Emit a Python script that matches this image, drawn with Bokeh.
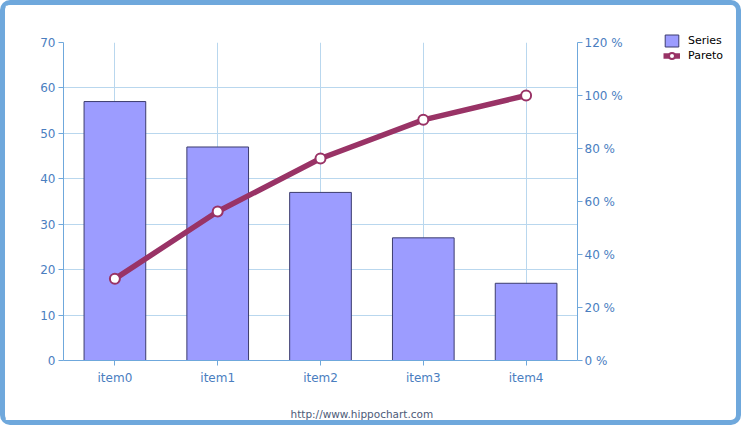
from bokeh.plotting import figure
from bokeh.layouts import row
from bokeh.models import (ColumnDataSource, Range1d, LinearAxis, FactorRange, Legend, LegendItem,
                          PrintfTickFormatter, SingleIntervalTicker, Title)
from bokeh.embed import file_html
from bokeh.resources import INLINE

categories = ["item0", "item1", "item2", "item3", "item4"]
values = [57, 47, 37, 27, 17]
total = sum(values)
cum = []
s = 0
for v in values:
    s += v
    cum.append(s / total * 100.0)
series_names = ["Series", "Pareto"]

src = ColumnDataSource(dict(cat=categories, val=values, pct=cum))

AX = "#6fa8dc"
LBL = "#4a7ebf"
GRID = "#b9d7ee"
FONT = "DejaVu Sans"
BAR_FILL = "#9c9cff"
BAR_LINE = "#3c3c6e"
PARETO = "#993366"

WA, WB, H = 622, 109, 415

p = figure(x_range=FactorRange(*categories, range_padding=0), y_range=Range1d(0, 70),
           width=WA, height=H, output_backend="svg", toolbar_location=None,
           min_border_left=58, min_border_right=50, min_border_top=37, min_border_bottom=60)
p.outline_line_color = None
p.background_fill_color = "white"
p.border_fill_color = "white"
p.extra_y_ranges = {"pct": Range1d(0, 120)}

p.vbar(x="cat", top="val", width=0.6, source=src, fill_color=BAR_FILL,
       line_color=BAR_LINE, line_width=1)
p.line(x="cat", y="pct", source=src, y_range_name="pct", line_color=PARETO, line_width=5.5)
p.scatter(x="cat", y="pct", source=src, y_range_name="pct", size=10, fill_color="white",
          line_color=PARETO, line_width=2)

for ax in [p.xaxis[0], p.yaxis[0]]:
    ax.axis_line_color = AX
    ax.major_tick_line_color = AX
    ax.minor_tick_line_color = None
    ax.major_tick_out = 5
    ax.major_tick_in = 0
    ax.major_label_text_color = LBL
    ax.major_label_text_font = FONT
    ax.major_label_text_font_size = "12px"
p.yaxis[0].ticker = SingleIntervalTicker(interval=10, num_minor_ticks=0)
p.xaxis[0].major_label_standoff = 5
p.yaxis[0].major_label_standoff = 3
# blank spacer label to push the footer down
p.xaxis[0].axis_label = " "
p.xaxis[0].axis_label_standoff = 3
p.xaxis[0].axis_label_text_font_size = "11px"

ry = LinearAxis(y_range_name="pct", ticker=SingleIntervalTicker(interval=20, num_minor_ticks=0),
                formatter=PrintfTickFormatter(format="%d %%"))
ry.axis_line_color = AX
ry.major_tick_line_color = AX
ry.minor_tick_line_color = None
ry.major_tick_out = 5
ry.major_tick_in = 0
ry.major_label_text_color = LBL
ry.major_label_text_font = FONT
ry.major_label_text_font_size = "12px"
ry.major_label_standoff = 2
p.add_layout(ry, "right")

p.xgrid.grid_line_color = GRID
p.ygrid.grid_line_color = GRID

footer = Title(text="http://www.hippochart.com", align="left", text_font=FONT,
               text_font_size="10.5px", text_color="#4d5a78", text_font_style="normal",
               offset=227, standoff=0)
p.add_layout(footer, "below")

# legend panel (separate small transparent figure to the right)
q = figure(x_range=Range1d(0, 1), y_range=Range1d(0, 1), width=WB, height=H,
           output_backend="svg", toolbar_location=None, title=None,
           x_axis_location=None, y_axis_location=None,
           min_border_left=36, min_border_right=0, min_border_top=0, min_border_bottom=0,
           styles={"margin-top": "-9px"})
q.grid.visible = False
q.outline_line_color = None
q.background_fill_alpha = 0
q.border_fill_alpha = 0
# legend proxies: one undrawn (NaN) point each, only used for legend swatches
nan = float("nan")
proxy = ColumnDataSource(dict(x=[nan], y=[nan]))
lb = q.vbar(x="x", top="y", width=0.5, source=proxy, fill_color=BAR_FILL, line_color=BAR_LINE)
ll = q.line(x="x", y="y", source=proxy, line_color=PARETO, line_width=5.5)
lp = q.scatter(x="x", y="y", source=proxy, size=10, fill_color="white", line_color=PARETO, line_width=2)

legend = Legend(items=[LegendItem(label=series_names[0], renderers=[lb]),
                       LegendItem(label=series_names[1], renderers=[ll, lp])],
                location="top_left", margin=0, border_line_color=None, background_fill_alpha=0,
                label_text_font=FONT, label_text_font_size="11px", label_text_color="black",
                glyph_width=17, glyph_height=15, spacing=0, padding=0, label_standoff=8,
                label_height=15)
q.add_layout(legend, "center")

layout = row(p, q, width=741, height=425, spacing=0,
             styles={"border": "5px solid #6fa8dc", "border-radius": "10px", "background": "white"})

open("out.html", "w").write(file_html(layout, INLINE))
